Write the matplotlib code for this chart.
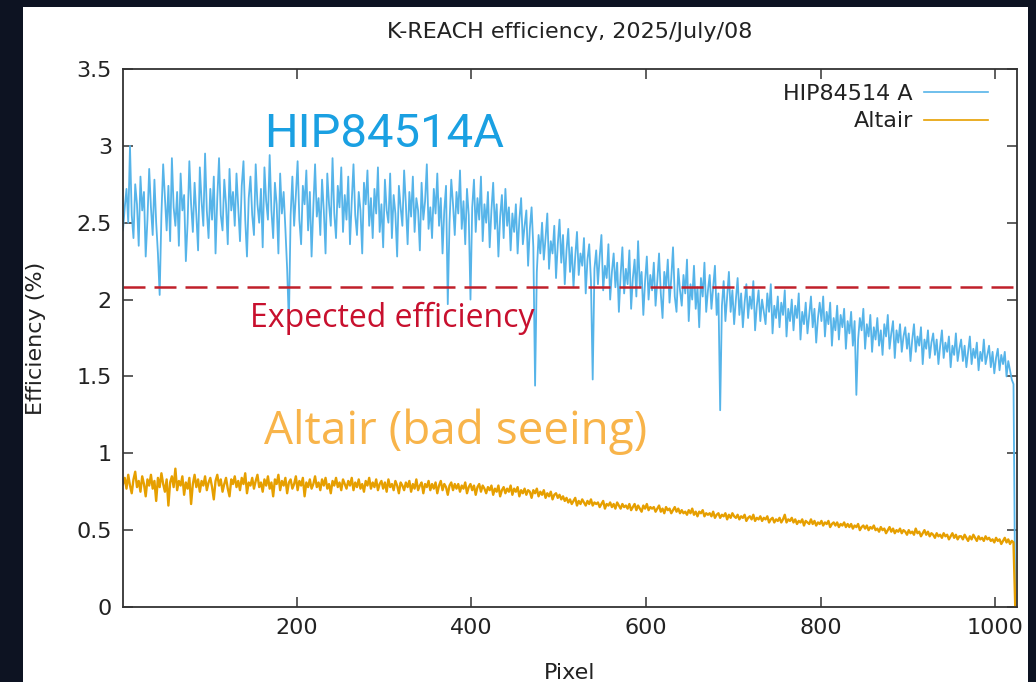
import numpy as np
import matplotlib
matplotlib.use("Agg")
import matplotlib.pyplot as plt
from matplotlib.patches import Rectangle
from matplotlib.ticker import FuncFormatter

# detector pixel grid (every 2nd pixel)
pixels = list(range(1, 1024, 2))

hip84514a = [
    2.45, 2.60, 2.72, 2.50, 3.00, 2.55, 2.40, 2.75, 2.62, 2.35, 2.80, 2.58, 2.70, 2.28, 2.52, 2.85,
    2.60, 2.42, 2.78, 2.50, 2.30, 2.03, 2.55, 2.88, 2.66, 2.45, 2.74, 2.38, 2.92, 2.60, 2.48, 2.70,
    2.35, 2.82, 2.58, 2.68, 2.25, 2.50, 2.90, 2.62, 2.44, 2.76, 2.55, 2.32, 2.86, 2.64, 2.48, 2.95,
    2.58, 2.40, 2.72, 2.52, 2.80, 2.30, 2.66, 2.92, 2.55, 2.45, 2.78, 2.62, 2.36, 2.85, 2.58, 2.70,
    2.48, 2.82, 2.60, 2.38, 2.74, 2.90, 2.52, 2.28, 2.66, 2.80, 2.55, 2.42, 2.88, 2.62, 2.50, 2.72,
    2.34, 2.86, 2.64, 2.52, 2.94, 2.58, 2.40, 2.76, 2.62, 2.30, 2.82, 2.56, 2.70, 2.46, 2.20, 1.85,
    2.55, 2.80, 2.48, 2.68, 2.90, 2.52, 2.36, 2.74, 2.62, 2.84, 2.45, 2.70, 2.28, 2.60, 2.88, 2.54,
    2.66, 2.42, 2.78, 2.58, 2.30, 2.82, 2.62, 2.48, 2.92, 2.56, 2.40, 2.74, 2.60, 2.86, 2.44, 2.68,
    2.52, 2.80, 2.36, 2.64, 2.88, 2.55, 2.42, 2.70, 2.58, 2.30, 2.76, 2.62, 2.84, 2.48, 2.66, 2.40,
    2.72, 2.56, 2.86, 2.44, 2.62, 2.34, 2.78, 2.58, 2.50, 2.82, 2.40, 2.68, 2.56, 2.28, 2.74, 2.60,
    2.48, 2.84, 2.62, 2.36, 2.70, 2.54, 2.80, 2.44, 2.66, 2.58, 2.32, 2.76, 2.52, 2.64, 2.88, 2.46,
    2.60, 2.40, 2.72, 2.56, 2.82, 2.48, 2.66, 2.30, 2.58, 2.74, 1.97, 2.50, 2.78, 2.62, 2.42, 2.70,
    2.56, 2.84, 2.46, 2.64, 2.36, 2.72, 2.55, 2.00, 2.60, 2.78, 2.44, 2.66, 2.52, 2.80, 2.38, 2.62,
    2.50, 2.70, 2.34, 2.58, 2.76, 2.46, 2.62, 2.28, 2.54, 2.68, 2.40, 2.72, 2.48, 2.60, 2.32, 2.56,
    2.44, 2.62, 2.30, 2.52, 2.66, 2.36, 2.48, 2.58, 2.22, 2.46, 2.60, 2.34, 1.44, 2.18, 2.42, 2.30,
    2.50, 2.26, 2.40, 2.56, 2.20, 2.38, 2.30, 2.48, 2.14, 2.36, 2.52, 2.24, 2.42, 2.10, 2.32, 2.46,
    2.18, 2.34, 2.08, 2.28, 2.44, 2.16, 2.30, 2.22, 2.40, 2.04, 2.26, 2.36, 2.12, 1.48, 2.20, 2.32,
    2.10, 2.28, 2.42, 2.06, 2.22, 2.14, 2.36, 2.00, 2.18, 2.30, 2.08, 2.24, 1.92, 2.16, 2.34, 2.04,
    2.20, 2.10, 2.32, 1.94, 2.14, 2.26, 2.02, 2.38, 2.08, 2.18, 1.90, 2.12, 2.28, 2.00, 2.16, 2.06,
    2.24, 1.96, 2.12, 2.30, 2.04, 1.88, 2.18, 2.08, 2.26, 1.98, 2.14, 2.34, 2.02, 1.92, 2.20, 2.06,
    1.96, 2.16, 2.04, 2.26, 1.86, 2.10, 2.00, 2.22, 1.94, 2.08, 1.82, 2.14, 2.02, 2.24, 1.92, 2.06,
    2.16, 1.94, 2.08, 2.22, 1.90, 2.04, 1.28, 1.96, 2.12, 1.86, 2.02, 2.18, 1.92, 2.06, 1.84, 2.00,
    2.14, 1.90, 2.04, 1.82, 1.98, 2.10, 1.88, 2.02, 1.94, 2.12, 1.80, 1.96, 2.06, 1.86, 2.00, 1.92,
    1.84, 2.04, 1.92, 2.10, 1.78, 1.96, 1.88, 2.02, 1.82, 1.98, 1.90, 2.06, 1.76, 1.94, 1.86, 2.00,
    1.80, 1.96, 1.88, 2.04, 1.74, 1.92, 1.84, 1.98, 1.78, 1.90, 2.02, 1.82, 1.94, 1.72, 1.88, 1.98,
    1.86, 2.02, 1.76, 1.92, 1.84, 1.98, 1.70, 1.88, 1.80, 1.96, 1.74, 1.90, 1.82, 1.94, 1.68, 1.86,
    1.78, 1.92, 1.70, 1.86, 1.38, 1.74, 1.88, 1.80, 1.94, 1.68, 1.84, 1.76, 1.90, 1.66, 1.82, 1.74,
    1.88, 1.70, 1.80, 1.64, 1.84, 1.76, 1.90, 1.68, 1.78, 1.86, 1.62, 1.80, 1.72, 1.84, 1.66, 1.76,
    1.82, 1.68, 1.78, 1.60, 1.74, 1.84, 1.66, 1.76, 1.70, 1.82, 1.58, 1.74, 1.68, 1.80, 1.62, 1.72,
    1.78, 1.64, 1.74, 1.58, 1.70, 1.80, 1.62, 1.72, 1.66, 1.76, 1.56, 1.70, 1.64, 1.78, 1.60, 1.68,
    1.74, 1.60, 1.70, 1.56, 1.66, 1.76, 1.58, 1.68, 1.62, 1.72, 1.54, 1.66, 1.60, 1.74, 1.58, 1.64,
    1.70, 1.56, 1.66, 1.52, 1.62, 1.68, 1.54, 1.64, 1.58, 1.66, 1.50, 1.60, 1.54, 1.48, 1.45, 0.00,
]

altair = [
    0.80, 0.84, 0.77, 0.86, 0.79, 0.74, 0.83, 0.88, 0.78, 0.82, 0.75, 0.85, 0.80, 0.72, 0.83, 0.79,
    0.86, 0.77, 0.82, 0.69, 0.84, 0.78, 0.87, 0.80, 0.75, 0.83, 0.66, 0.81, 0.85, 0.78, 0.90, 0.76,
    0.82, 0.79, 0.85, 0.73, 0.81, 0.77, 0.84, 0.67, 0.80, 0.86, 0.78, 0.83, 0.75, 0.82, 0.79, 0.85,
    0.76, 0.81, 0.84, 0.78, 0.70, 0.82, 0.86, 0.79, 0.83, 0.75, 0.80, 0.84, 0.77, 0.72, 0.83, 0.80,
    0.85, 0.78, 0.82, 0.76, 0.84, 0.80, 0.87, 0.74, 0.81, 0.79, 0.84, 0.77, 0.82, 0.86, 0.78, 0.81,
    0.75, 0.83, 0.79, 0.85, 0.77, 0.81, 0.72, 0.83, 0.80, 0.86, 0.76, 0.82, 0.79, 0.84, 0.74, 0.81,
    0.83, 0.77, 0.80, 0.85, 0.76, 0.82, 0.79, 0.84, 0.72, 0.81, 0.78, 0.83, 0.77, 0.80, 0.85, 0.78,
    0.81, 0.76, 0.83, 0.79, 0.84, 0.77, 0.80, 0.74, 0.82, 0.79, 0.84, 0.78, 0.81, 0.76, 0.83, 0.80,
    0.77, 0.82, 0.79, 0.84, 0.76, 0.81, 0.78, 0.83, 0.77, 0.80, 0.75, 0.82, 0.79, 0.84, 0.77, 0.81,
    0.78, 0.83, 0.76, 0.80, 0.82, 0.77, 0.81, 0.75, 0.83, 0.78, 0.80, 0.76, 0.82, 0.79, 0.74, 0.81,
    0.79, 0.76, 0.81, 0.78, 0.82, 0.75, 0.80, 0.77, 0.83, 0.76, 0.79, 0.81, 0.74, 0.80, 0.78, 0.82,
    0.76, 0.80, 0.77, 0.81, 0.74, 0.79, 0.82, 0.76, 0.80, 0.78, 0.73, 0.79, 0.81, 0.76, 0.80, 0.77,
    0.80, 0.75, 0.79, 0.77, 0.81, 0.74, 0.78, 0.80, 0.76, 0.79, 0.73, 0.78, 0.80, 0.75, 0.79, 0.77,
    0.74, 0.78, 0.76, 0.79, 0.73, 0.77, 0.75, 0.79, 0.72, 0.76, 0.78, 0.74, 0.77, 0.75, 0.79, 0.73,
    0.77, 0.75, 0.78, 0.72, 0.76, 0.74, 0.77, 0.73, 0.76, 0.75, 0.71, 0.76, 0.74, 0.77, 0.72, 0.75,
    0.73, 0.76, 0.71, 0.74, 0.72, 0.75, 0.70, 0.73, 0.74, 0.71, 0.73, 0.70, 0.72, 0.69, 0.71, 0.68,
    0.70, 0.67, 0.69, 0.71, 0.66, 0.69, 0.67, 0.70, 0.68, 0.66, 0.69, 0.67, 0.70, 0.66, 0.68, 0.67,
    0.68, 0.65, 0.67, 0.69, 0.64, 0.67, 0.66, 0.68, 0.65, 0.67, 0.64, 0.68, 0.66, 0.64, 0.67, 0.65,
    0.66, 0.64, 0.67, 0.63, 0.65, 0.67, 0.63, 0.66, 0.64, 0.62, 0.66, 0.64, 0.67, 0.63, 0.65, 0.64,
    0.65, 0.62, 0.64, 0.66, 0.62, 0.64, 0.61, 0.65, 0.63, 0.64, 0.61, 0.63, 0.65, 0.62, 0.64, 0.61,
    0.63, 0.61, 0.62, 0.60, 0.63, 0.61, 0.64, 0.60, 0.62, 0.59, 0.62, 0.61, 0.63, 0.59, 0.61, 0.60,
    0.61, 0.59, 0.62, 0.58, 0.60, 0.61, 0.58, 0.60, 0.59, 0.61, 0.57, 0.60, 0.58, 0.61, 0.59, 0.58,
    0.60, 0.57, 0.59, 0.58, 0.60, 0.56, 0.58, 0.59, 0.57, 0.60, 0.56, 0.58, 0.57, 0.59, 0.56, 0.58,
    0.57, 0.59, 0.55, 0.57, 0.58, 0.55, 0.57, 0.56, 0.58, 0.55, 0.57, 0.60, 0.55, 0.57, 0.56, 0.58,
    0.55, 0.57, 0.54, 0.56, 0.55, 0.57, 0.53, 0.56, 0.55, 0.54, 0.57, 0.54, 0.56, 0.53, 0.55, 0.54,
    0.56, 0.53, 0.55, 0.54, 0.56, 0.52, 0.54, 0.55, 0.53, 0.55, 0.52, 0.54, 0.53, 0.55, 0.52, 0.54,
    0.52, 0.54, 0.51, 0.53, 0.52, 0.54, 0.50, 0.52, 0.53, 0.51, 0.53, 0.50, 0.52, 0.51, 0.53, 0.50,
    0.51, 0.49, 0.52, 0.50, 0.51, 0.48, 0.50, 0.52, 0.49, 0.51, 0.48, 0.50, 0.49, 0.51, 0.48, 0.50,
    0.49, 0.47, 0.50, 0.48, 0.49, 0.47, 0.51, 0.48, 0.49, 0.46, 0.48, 0.50, 0.47, 0.49, 0.46, 0.48,
    0.47, 0.45, 0.48, 0.46, 0.47, 0.45, 0.48, 0.46, 0.47, 0.44, 0.46, 0.48, 0.45, 0.47, 0.44, 0.46,
    0.46, 0.44, 0.47, 0.45, 0.43, 0.46, 0.44, 0.47, 0.45, 0.43, 0.46, 0.44, 0.45, 0.43, 0.46, 0.44,
    0.45, 0.43, 0.44, 0.42, 0.45, 0.43, 0.44, 0.41, 0.43, 0.45, 0.42, 0.44, 0.41, 0.43, 0.42, 0.00,
]

expected_efficiency = 2.08
y_ticks = [0, 0.5, 1, 1.5, 2, 2.5, 3, 3.5]
x_ticks = [200, 400, 600, 800, 1000]

plt.rcParams["font.family"] = "DejaVu Sans"

fig = plt.figure(figsize=(10.36, 6.82), dpi=100, facecolor="#0d1322")
# white page inside the dark screenshot border
fig.patches.append(Rectangle((23 / 1036, 0), 1005 / 1036, 675 / 682,
                             transform=fig.transFigure, facecolor="white",
                             edgecolor="none", zorder=-5))

ax = fig.add_axes([123 / 1036, 75 / 682, 894 / 1036, 538 / 682])
ax.set_zorder(2)
ax.set_facecolor("white")

ax.plot(pixels, hip84514a, color="#56b4e9", lw=1.3, label="HIP84514 A")
ax.plot(pixels, altair, color="#e69f00", lw=1.7, label="Altair")
ax.axhline(expected_efficiency, color="#c0202a", lw=1.8, dashes=(8.8, 3.6))

ax.set_xlim(1, 1025)
ax.set_ylim(0, 3.5)
ax.set_xticks(x_ticks)
ax.set_yticks(y_ticks)
ax.yaxis.set_major_formatter(FuncFormatter(lambda v, p: f"{v:g}"))
ax.tick_params(direction="in", length=7, width=1.1, color="#333333",
               top=True, right=True, labelsize=16, pad=8, labelcolor="#222222")
for s in ax.spines.values():
    s.set_color("#333333")
    s.set_linewidth(1.3)

ax.set_title("K-REACH efficiency, 2025/July/08", fontsize=16, color="#222222", pad=22)
ax.set_xlabel("Pixel", fontsize=16, color="#222222", labelpad=18)
ax.set_ylabel("Efficiency (%)", fontsize=16, color="#222222", labelpad=22)

leg = ax.legend(loc="upper right", bbox_to_anchor=(0.968, 0.972), frameon=False,
                markerfirst=False, fontsize=16, handlelength=2.9, handletextpad=0.5,
                labelspacing=0.33, borderpad=0, borderaxespad=0, labelcolor="#222222")
for h in leg.get_lines():
    h.set_linewidth(1.2)

ax.text(163, 3.08, "HIP84514A", color="#1aa0e2", fontsize=34, family="Roboto",
        va="center", ha="left")
ax.text(146, 1.88, "Expected efficiency", color="#c8102e", fontsize=23,
        family="Open Sans", va="center", ha="left")
ax.text(163, 1.14, "Altair (bad seeing)", color="#f8b44a", fontsize=33,
        family="Open Sans", va="center", ha="left")

fig.savefig("out.png", dpi=100, facecolor=fig.get_facecolor())
